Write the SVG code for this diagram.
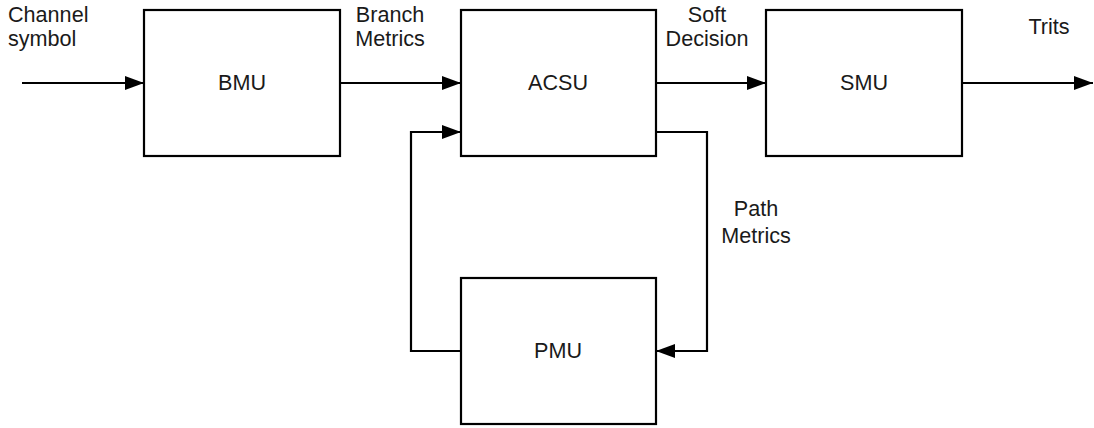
<svg xmlns="http://www.w3.org/2000/svg" width="1094" height="428" viewBox="0 0 1094 428">
  <style>
    .box { fill: #ffffff; stroke: #000000; stroke-width: 2.2; }
    .wire { fill: none; stroke: #000000; stroke-width: 2.2; }
    text { font-family: "Liberation Sans", Arial, sans-serif; font-size: 21.6px; fill: #1a1a1a; }
    .mid { text-anchor: middle; }
  </style>
  <defs>
    <marker id="arrow" markerUnits="userSpaceOnUse" markerWidth="20" markerHeight="16" viewBox="0 0 20 16" refX="19" refY="8" orient="auto">
      <path d="M0,1 L19,8 L0,15 Z" fill="#000000"/>
    </marker>
  </defs>
  <rect width="1094" height="428" fill="#ffffff"/>

  <!-- signal paths between the units -->
  <g id="connectors">
    <path class="wire" d="M22,83 H144" marker-end="url(#arrow)"/>
    <path class="wire" d="M340,83 H461" marker-end="url(#arrow)"/>
    <path class="wire" d="M656,83 H766" marker-end="url(#arrow)"/>
    <path class="wire" d="M962,83 H1093" marker-end="url(#arrow)"/>
    <path class="wire" d="M656,132 H707 V351 H656" marker-end="url(#arrow)"/>
    <path class="wire" d="M461,351 H411 V132 H461" marker-end="url(#arrow)"/>
  </g>

  <!-- signal labels -->
  <g id="labels">
    <text x="8" y="22">Channel</text>
    <text x="8" y="46">symbol</text>
    <text class="mid" x="390" y="22">Branch</text>
    <text class="mid" x="390" y="46">Metrics</text>
    <text class="mid" x="707" y="22">Soft</text>
    <text class="mid" x="707" y="46">Decision</text>
    <text class="mid" x="1049" y="34">Trits</text>
    <text class="mid" x="756" y="216">Path</text>
    <text class="mid" x="756" y="243">Metrics</text>
  </g>

  <g id="bmu">
    <rect class="box" x="144" y="10" width="196" height="146"/>
    <text class="mid" x="242" y="90">BMU</text>
  </g>
  <g id="acsu">
    <rect class="box" x="461" y="10" width="195" height="146"/>
    <text class="mid" x="558" y="90">ACSU</text>
  </g>
  <g id="smu">
    <rect class="box" x="766" y="10" width="196" height="146"/>
    <text class="mid" x="864" y="90">SMU</text>
  </g>
  <g id="pmu">
    <rect class="box" x="461" y="278" width="195" height="146"/>
    <text class="mid" x="558" y="358">PMU</text>
  </g>
</svg>
